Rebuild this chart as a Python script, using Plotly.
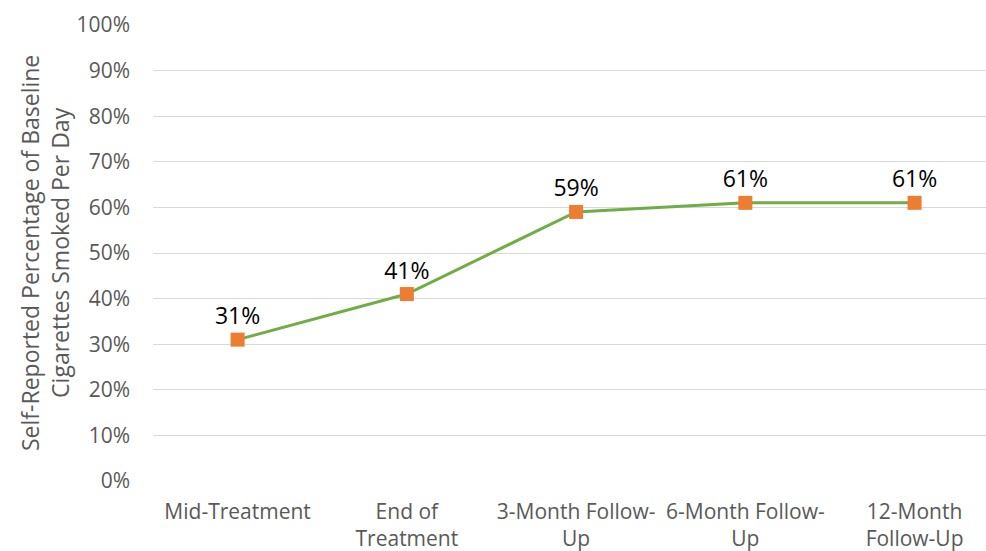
import plotly.graph_objects as go

categories = ["Mid-Treatment", "End of<br>Treatment", "3-Month Follow-<br>Up",
              "6-Month Follow-<br>Up", "12-Month<br>Follow-Up"]
values = [0.31, 0.41, 0.59, 0.61, 0.61]
y_ticks = [i / 10 for i in range(11)]
y_tick_labels = [f"{i*10}%" for i in range(11)]
y_title = "Self-Reported Percentage of Baseline<br>Cigarettes Smoked Per Day"

FONT = "Open Sans"
fig = go.Figure()
fig.add_trace(go.Scatter(
    x=categories, y=values, mode="lines+markers+text",
    line=dict(color="#70AD47", width=3),
    marker=dict(symbol="square", size=14, color="#ED7D31"),
    text=[f"{round(v*100)}%" for v in values],
    textposition="top center",
    textfont=dict(family=FONT, size=23, color="#000000"),
    cliponaxis=False, showlegend=False,
))
fig.update_layout(
    width=986, height=551,
    margin=dict(l=153, r=0, t=25, b=70),
    paper_bgcolor="white", plot_bgcolor="white",
    font=dict(family=FONT, size=21, color="#595959"),
    xaxis=dict(type="category", range=[-0.5, 4.422], showgrid=False,
               showline=False, zeroline=False, ticks="",
               tickfont=dict(family=FONT, size=21, color="#595959"),
               ticklabelstandoff=16),
    yaxis=dict(range=[0, 1], tickvals=y_ticks, ticktext=y_tick_labels,
               showgrid=True, gridcolor="#D9D9D9", gridwidth=1.3,
               zeroline=False, showline=False, ticks="",
               tickfont=dict(family=FONT, size=21, color="#595959"),
               ticklabelstandoff=22),
    annotations=[dict(text=y_title, textangle=-90, xref="paper", yref="paper",
                      x=0, y=0.5, xanchor="center", yanchor="middle",
                      xshift=-108, showarrow=False,
                      font=dict(family=FONT, size=23, color="#595959"))],
)
fig.write_html("out.html")
